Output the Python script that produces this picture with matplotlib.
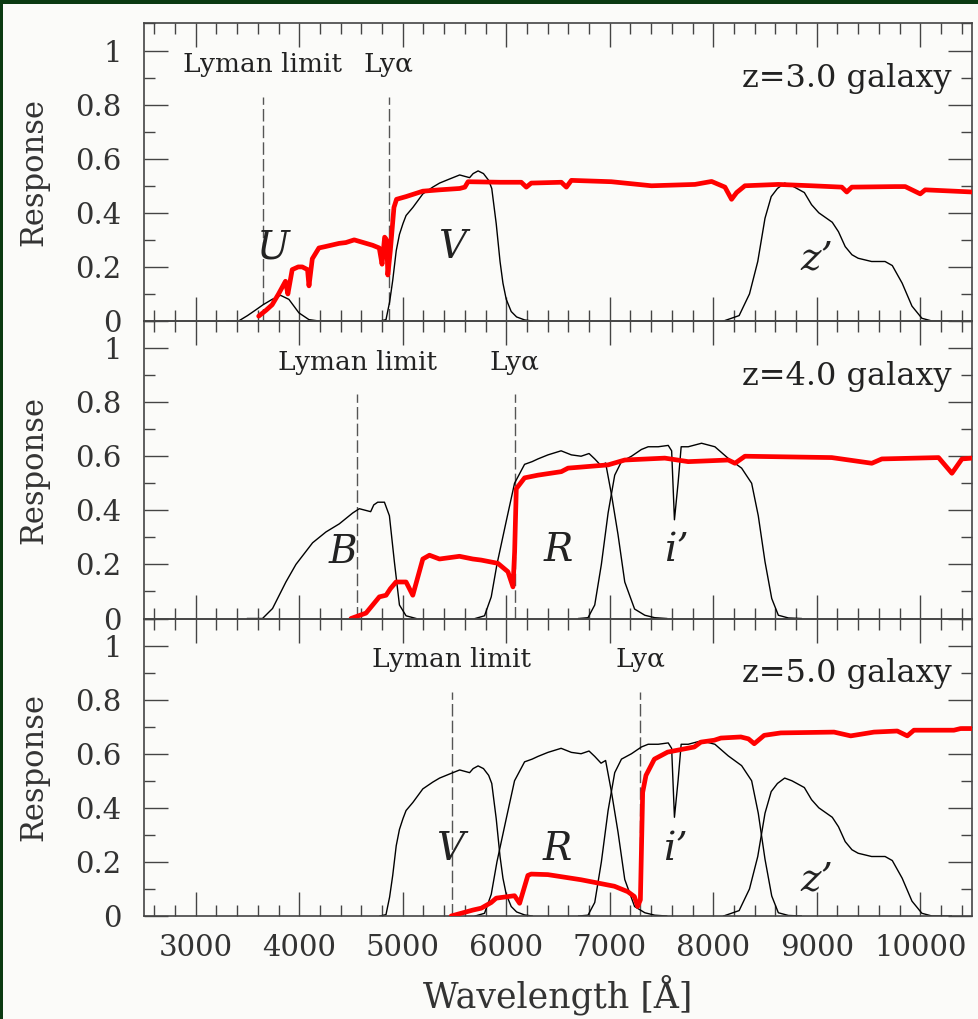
import matplotlib
matplotlib.use('Agg')
import matplotlib.pyplot as plt
from matplotlib.patches import Rectangle
from matplotlib.ticker import MultipleLocator, FuncFormatter

plt.rcParams['font.family'] = ['DejaVu Serif']
plt.rcParams['mathtext.fontset'] = 'dejavuserif'

# filter responses (wavelength in Angstrom)
U_wave = [3300, 3414, 3500, 3576, 3650, 3738, 3819, 3900, 3997, 4094, 4190, 4400]
U_resp = [0, 0.0, 0.02, 0.04, 0.06, 0.08, 0.095, 0.08, 0.03, 0.005, 0, 0]

B_wave = [3500, 3645, 3742, 3871, 3968, 4129, 4258, 4387, 4516, 4580, 4640, 4690,
          4720, 4758, 4823, 4871, 4919, 4968, 5032, 5129]
B_resp = [0, 0, 0.037, 0.135, 0.2, 0.28, 0.32, 0.35, 0.39, 0.406, 0.40, 0.395,
          0.42, 0.43, 0.43, 0.38, 0.21, 0.05, 0.01, 0]

V_wave = [4780, 4838, 4873, 4903, 4937, 4968, 5002, 5032, 5098, 5194, 5290, 5356,
          5452, 5550, 5646, 5680, 5728, 5780, 5830, 5860, 5903, 5940, 5968, 6000,
          6048, 6100, 6177, 6250]
V_resp = [0, 0.005, 0.07, 0.15, 0.26, 0.32, 0.36, 0.39, 0.42, 0.47, 0.495, 0.51,
          0.525, 0.54, 0.53, 0.545, 0.555, 0.545, 0.52, 0.49, 0.36, 0.22, 0.14, 0.08,
          0.035, 0.015, 0.004, 0]

R_wave = [5700, 5790, 5855, 5910, 6000, 6080, 6177, 6250, 6306, 6403, 6530, 6629,
          6723, 6800, 6855, 6916, 6960, 7016, 7080, 7145, 7240, 7339, 7435, 7550]
R_resp = [0, 0.01, 0.08, 0.2, 0.36, 0.5, 0.57, 0.58, 0.59, 0.605, 0.62, 0.605,
          0.6, 0.61, 0.59, 0.565, 0.575, 0.46, 0.31, 0.135, 0.035, 0.012, 0.003, 0]

i_wave = [6700, 6790, 6855, 6919, 6984, 7048, 7113, 7210, 7306, 7371, 7468, 7565,
          7598, 7625, 7660, 7690, 7758, 7887, 8016, 8145, 8274, 8371, 8435, 8500,
          8565, 8629, 8726, 8850]
i_resp = [0, 0.003, 0.05, 0.2, 0.39, 0.53, 0.58, 0.6, 0.625, 0.635, 0.635, 0.64,
          0.62, 0.365, 0.5, 0.635, 0.635, 0.648, 0.635, 0.592, 0.556, 0.5, 0.38, 0.21,
          0.074, 0.012, 0.002, 0]

z_wave = [8100, 8250, 8350, 8430, 8500, 8560, 8620, 8690, 8760, 8880, 8950, 9020,
          9150, 9210, 9275, 9340, 9400, 9530, 9660, 9730, 9825, 9920, 10016, 10113, 10300]
z_resp = [0, 0.02, 0.1, 0.22, 0.38, 0.46, 0.49, 0.51, 0.5, 0.475, 0.43, 0.40,
          0.365, 0.33, 0.275, 0.245, 0.232, 0.22, 0.22, 0.205, 0.14, 0.055, 0.01, 0.0, 0]

# galaxy spectra (red)
sp3_wave = [3608, 3680, 3738, 3800, 3867, 3890, 3932, 3990, 4029, 4080, 4094, 4126,
            4190, 4250, 4385, 4450, 4531, 4620, 4709, 4773, 4800, 4825, 4845, 4856,
            4880, 4915, 4940, 5032, 5194, 5356, 5550, 5600, 5631, 5939, 6145, 6194,
            6242, 6532, 6581, 6629, 7016, 7403, 7823, 7984, 8113, 8177, 8226, 8306,
            8629, 8952, 9242, 9290, 9339, 9758, 9855, 10000, 10048, 10500]
sp3_resp = [0.018, 0.04, 0.06, 0.1, 0.147, 0.10, 0.19, 0.2, 0.2, 0.19, 0.13, 0.23,
            0.27, 0.275, 0.287, 0.29, 0.30, 0.29, 0.28, 0.27, 0.21, 0.31, 0.3, 0.17,
            0.26, 0.42, 0.45, 0.46, 0.48, 0.485, 0.49, 0.495, 0.515, 0.513, 0.513, 0.495,
            0.51, 0.513, 0.495, 0.52, 0.515, 0.5, 0.505, 0.516, 0.495, 0.45, 0.475, 0.5,
            0.505, 0.5, 0.495, 0.477, 0.495, 0.497, 0.497, 0.47, 0.485, 0.477]

sp4_wave = [4500, 4645, 4774, 4839, 4880, 4935, 5032, 5097, 5194, 5258, 5355, 5548,
            5677, 5758, 5919, 6016, 6065, 6081, 6097, 6177, 6306, 6532, 6597, 6984,
            7145, 7532, 7758, 8145, 8210, 8306, 9145, 9532, 9629, 10177, 10306, 10403, 10500]
sp4_resp = [0.0, 0.02, 0.08, 0.086, 0.11, 0.135, 0.135, 0.086, 0.22, 0.234, 0.22, 0.23,
            0.22, 0.216, 0.204, 0.173, 0.117, 0.247, 0.48, 0.52, 0.53, 0.543, 0.556, 0.568,
            0.586, 0.593, 0.58, 0.586, 0.574, 0.6, 0.595, 0.574, 0.59, 0.595, 0.537, 0.59, 0.593]

sp5_wave = [5468, 5678, 5759, 5855, 5903, 6080, 6129, 6209, 6241, 6402, 6723, 6884,
            7045, 7174, 7238, 7270, 7296, 7318, 7350, 7431, 7559, 7817, 7881, 8010,
            8074, 8267, 8340, 8396, 8492, 8653, 9167, 9328, 9553, 9778, 9875, 9939,
            10325, 10389, 10500]
sp5_resp = [0.0, 0.022, 0.029, 0.05, 0.066, 0.075, 0.047, 0.15, 0.155, 0.153, 0.134, 0.122,
            0.11, 0.09, 0.072, 0.035, 0.06, 0.457, 0.52, 0.58, 0.606, 0.625, 0.643, 0.65,
            0.658, 0.662, 0.655, 0.637, 0.668, 0.677, 0.68, 0.666, 0.68, 0.684, 0.666, 0.687,
            0.687, 0.693, 0.693]

redshifts = [3.0, 4.0, 5.0]
lyman_limit = 912
lyman_alpha = 1216

fig = plt.figure(figsize=(9.79, 10.19), dpi=100)
fig.patch.set_facecolor('#0b3a12')
fig.patches.append(Rectangle((3 / 979, 0), 1, 1 - 4 / 1019, transform=fig.transFigure,
                             facecolor='#fbfbf9', edgecolor='none', zorder=-10))

left, width = 144 / 979, 828 / 979
bottom, height = 103 / 1019, 297.5 / 1019

panels = [
    (sp3_wave, sp3_resp, [(U_wave, U_resp), (V_wave, V_resp), (z_wave, z_resp)],
     [('U', 3746, 0.27), ('V', 5479, 0.27), ('z\u2019', 9000, 0.23)]),
    (sp4_wave, sp4_resp, [(B_wave, B_resp), (R_wave, R_resp), (i_wave, i_resp)],
     [('B', 4419, 0.245), ('R', 6506, 0.25), ('i\u2019', 7645, 0.25)]),
    (sp5_wave, sp5_resp, [(V_wave, V_resp), (R_wave, R_resp), (i_wave, i_resp), (z_wave, z_resp)],
     [('V', 5459, 0.246), ('R', 6489, 0.246), ('i\u2019', 7630, 0.246), ('z\u2019', 8997, 0.134)]),
]

tick_col = '#444444'
for k, (sw, sr, filters, labels) in enumerate(panels):
    ax = fig.add_axes([left, bottom + (2 - k) * height, width, height])
    ax.set_facecolor('none')
    z = redshifts[k]
    for fw, fr in filters:
        ax.plot(fw, fr, color='black', lw=1.0, zorder=2)
    ax.plot(sw, sr, color='#ff0000', lw=3.4, zorder=4, solid_capstyle='round')

    ll = lyman_limit * (1 + z)
    la = lyman_alpha * (1 + z)
    for w in (ll, la):
        ax.plot([w, w], [0, 0.83], color='#555555', lw=1.0, dashes=(9, 3), zorder=1)
    ax.text(ll, 0.92, 'Lyman limit', ha='center', va='baseline', fontsize=19, color='#222222')
    ax.text(la, 0.92, 'Ly\u03b1', ha='center', va='baseline', fontsize=19, color='#222222')
    ax.text(0.975, 0.785, 'z=%.1f galaxy' % z, transform=ax.transAxes, ha='right',
            va='baseline', fontsize=23, color='#222222')
    for txt, lx, ly in labels:
        ax.text(lx, ly, txt, ha='center', va='center', fontsize=28, style='italic',
                color='#222222')

    ax.set_xlim(2500, 10500)
    ax.set_ylim(0, 1.1)
    ax.xaxis.set_major_locator(MultipleLocator(1000))
    ax.xaxis.set_minor_locator(MultipleLocator(200))
    ax.set_yticks([0, 0.2, 0.4, 0.6, 0.8, 1.0])
    ax.yaxis.set_minor_locator(MultipleLocator(0.1))
    ax.yaxis.set_major_formatter(FuncFormatter(lambda v, p: '%g' % round(v, 1)))
    ax.tick_params(which='both', direction='in', top=True, right=True, colors=tick_col,
                   labelcolor='#333333', labelsize=21, width=1.0)
    ax.tick_params(which='major', length=17)
    ax.tick_params(which='minor', length=8)
    ax.tick_params(axis='y', pad=16)
    ax.tick_params(axis='x', pad=13)
    for s in ax.spines.values():
        s.set_color('#444444')
        s.set_linewidth(1.2)
    ax.set_ylabel('Response', fontsize=22, color='#333333', labelpad=19)
    if k < 2:
        ax.tick_params(axis='x', labelbottom=False)
    else:
        ax.set_xlabel('Wavelength [\u00c5]', fontsize=25, color='#333333', labelpad=9)

fig.savefig('out.png', dpi=100, facecolor=fig.get_facecolor())
